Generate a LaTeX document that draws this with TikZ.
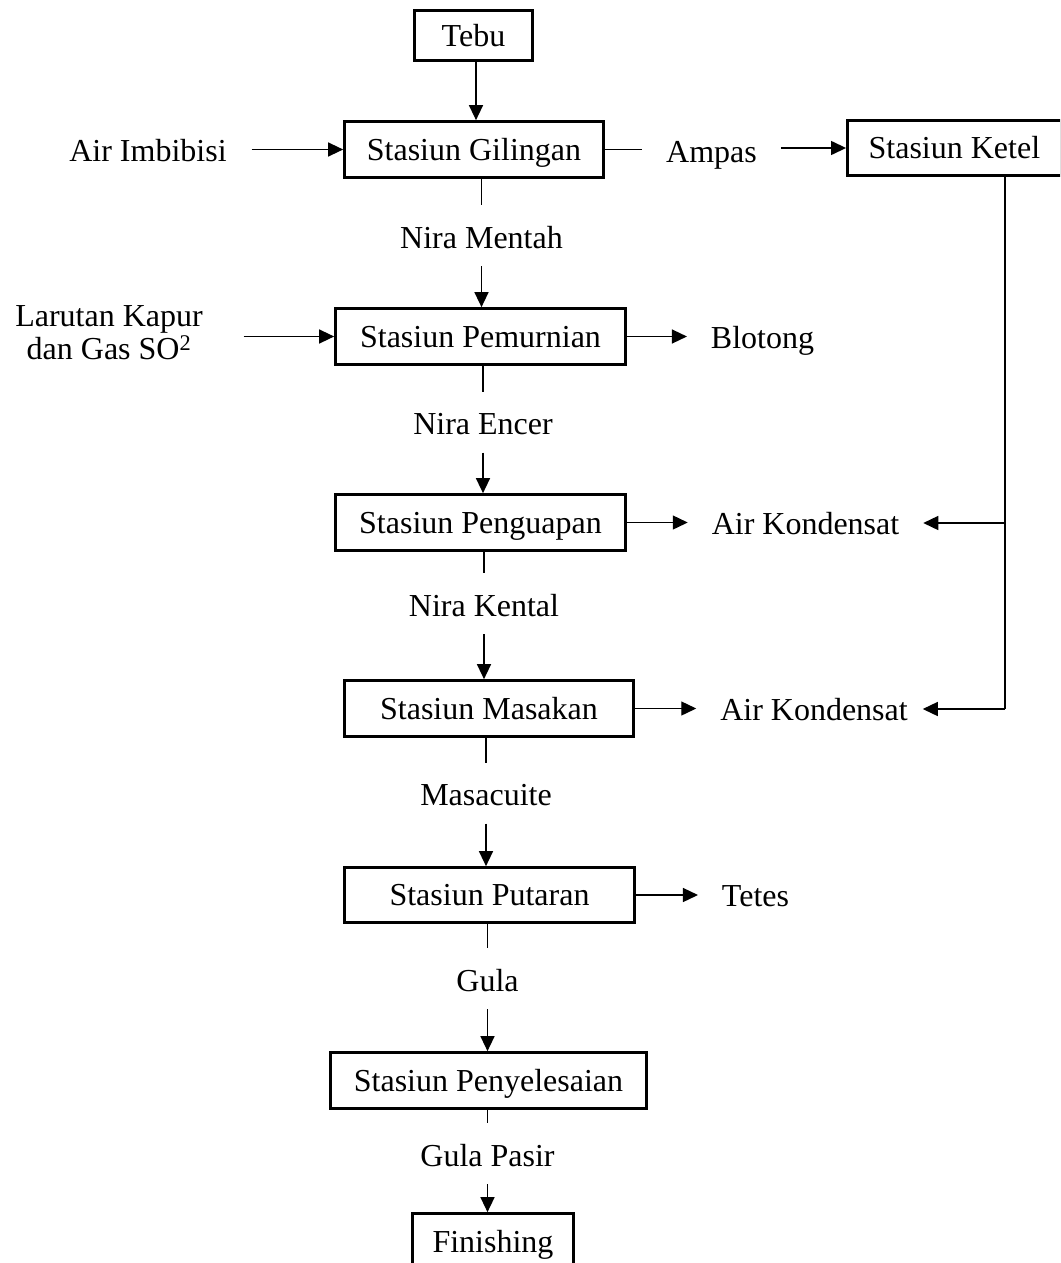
\documentclass[tikz,border=0pt]{standalone}
\usepackage{fontspec}
\setmainfont{Liberation Serif}
\usetikzlibrary{arrows.meta}
\begin{document}
\begin{tikzpicture}[x=1pt,y=-1pt,
  every node/.style={font=\fontsize{32}{33}\selectfont},
  stationbox/.style={draw, line width=2.7pt, inner sep=0pt, minimum height=56pt,
    text height=21.2pt, text depth=0pt},
  flowlabel/.style={inner sep=0pt, text height=25pt, text depth=0pt,
    outer xsep=24pt, outer ysep=18pt, anchor=base},
  link/.style={line width=1.4pt},
  arr/.style={line width=1.4pt, -{Triangle[length=15pt,width=14pt]}}]
\useasboundingbox (0,0) rectangle (1060,1263);
\clip (0,0) rectangle (1060,1263);

% stations
\node[stationbox, minimum width=118pt, minimum height=50pt] (tebu) at (473.5,35.5) {Tebu};
\node[stationbox, minimum width=259pt] (gil) at (474,149.5) {Stasiun Gilingan};
% the boiler box runs on to the right margin
\node[stationbox, minimum width=214pt, minimum height=55pt] (ket) at (954.4,148) {Stasiun Ketel};
\node[stationbox, minimum width=290pt] (pem) at (480.5,336.5) {Stasiun Pemurnian};
\node[stationbox, minimum width=290pt] (pen) at (480.5,522.5) {Stasiun Penguapan};
\node[stationbox, minimum width=289pt] (mas) at (489,708.5) {Stasiun Masakan};
\node[stationbox, minimum width=290pt, minimum height=55pt] (put) at (489.5,895) {Stasiun Putaran};
\node[stationbox, minimum width=316pt] (pny) at (488.5,1080.5) {Stasiun Penyelesaian};
\node[stationbox, minimum width=161pt, minimum height=57pt] (fin) at (493,1242) {Finishing};

% product labels between stations (placed at baseline)
\node[flowlabel] (nm) at (481.5,248) {Nira Mentah};
\node[flowlabel] (ne) at (483,434.5) {Nira Encer};
\node[flowlabel] (nk) at (484,616) {Nira Kental};
\node[flowlabel] (mc) at (486,805.5) {Masacuite};
\node[flowlabel] (gula) at (487.5,991) {Gula};
\node[flowlabel] (gp) at (487.5,1166) {Gula Pasir};

% side inputs and outputs
\node[flowlabel, outer xsep=25pt] (imb) at (148,161) {Air Imbibisi};
\node[inner sep=0pt, outer xsep=41pt, align=center] (lar) at (109,332.5)
  {Larutan Kapur\\dan Gas SO\textsuperscript{2}};
\node[flowlabel] (amp) at (711.5,162) {Ampas};
\node[flowlabel] (blo) at (762.5,348) {Blotong};
\node[flowlabel] (ak1) at (805.5,534) {Air Kondensat};
\node[flowlabel] (ak2) at (814,720) {Air Kondensat};
\node[flowlabel] (tet) at (755.5,906) {Tetes};

% main flow
\draw[arr] (tebu.south -| 476,0) -- (gil.north -| 476,0);
\draw[link] (nm.north |- gil.south) -- (nm.north);
\draw[arr] (nm.south) -- (nm.south |- pem.north);
\draw[link] (ne.north |- pem.south) -- (ne.north);
\draw[arr] (ne.south) -- (ne.south |- pen.north);
\draw[link] (nk.north |- pen.south) -- (nk.north);
\draw[arr] (nk.south) -- (nk.south |- mas.north);
\draw[link] (mc.north |- mas.south) -- (mc.north);
\draw[arr] (mc.south) -- (mc.south |- put.north);
\draw[link] (gula.north |- put.south) -- (gula.north);
\draw[arr] (gula.south) -- (gula.south |- pny.north);
\draw[link] (gp.north |- pny.south) -- (gp.north);
\draw[arr] (gp.south) -- (gp.south |- fin.north);

% inputs
\draw[arr] (imb.east |- gil.west) -- (gil.west);
\draw[arr] (lar.east |- pem.west) -- (pem.west);

% by-products
\draw[link] (gil.east) -- (amp.west |- gil.east);
\draw[arr] (amp.east |- ket.west) -- (ket.west);
\draw[arr] (pem.east) -- (blo.west |- pem.east);
\draw[arr] (pen.east) -- (ak1.west |- pen.east);
\draw[arr] (mas.east) -- (ak2.west |- mas.east);
\draw[arr] (put.east) -- (tet.west |- put.east);

% condensate return from the boiler station
\coordinate (kv1) at (1005,523);
\coordinate (kv2) at (1005,709);
\draw[link] (kv2 |- ket.south) -- (kv2);
\draw[arr] (kv1) -- (ak1.east |- kv1);
\draw[arr] (kv2) -- ([xshift=-9pt]ak2.east |- kv2);
\end{tikzpicture}
\end{document}
